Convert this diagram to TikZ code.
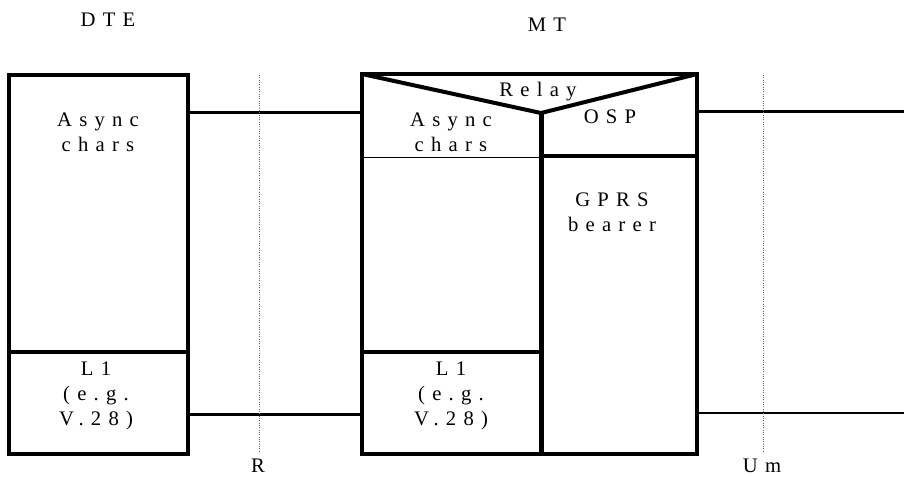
\documentclass[tikz,border=0pt]{standalone}
\usepackage{fontspec}
\setmainfont{Liberation Serif}
\newfontfamily\spaced[LetterSpace=35]{Liberation Serif}

\begin{document}
\begin{tikzpicture}[x=0.75pt,y=-0.75pt,
    box/.style={line width=3pt,line join=miter},
    midbar/.style={line width=3.75pt},
    wire/.style={line width=2.25pt},
    thinwire/.style={line width=1.5pt},
    hairline/.style={line width=0.75pt},
    refline/.style={draw=black!60,densely dotted,line width=0.75pt},
    lbl/.style={font=\spaced\fontsize{15.5}{18.5}\selectfont,align=center,inner sep=0pt}]
  \useasboundingbox (0,0) rectangle (904,476);

  % DTE stack
  \draw[box] (9,75) rectangle (188,454);
  \draw[box] (9,352) -- (188,352);
  \node[lbl] (dte) at (108,20) {DTE};
  \node[lbl] (dteasync) at (98,132) {Async\\chars};
  \node[lbl] (dtel1) at (96,396) {L1\\(e.g.\\V.28)};

  % MT stack
  \draw[box] (362,74) rectangle (697,454);
  \draw[box] (362,74) -- (541,113) -- (697,74);
  \draw[midbar] (541,113) -- (541,454);
  \draw[hairline] (362,157) -- (541,157);
  \draw[box] (541,156) -- (697,156);
  \draw[box] (362,352) -- (541,352);
  \node[lbl] (mt) at (547,25) {MT};
  \node[lbl] (relay) at (538,92) {Relay};
  \node[lbl] (mtasync) at (451,132) {Async\\chars};
  \node[lbl] (osp) at (610,117) {OSP};
  \node[lbl] (gprs) at (612,212) {GPRS\\bearer};
  \node[lbl] (mtl1) at (451,396) {L1\\(e.g.\\V.28)};

  % connection points
  \coordinate (dteup) at (188,112);
  \coordinate (mtup) at (362,112);
  \coordinate (dtelow) at (188,414);
  \coordinate (mtlow) at (362,414);
  \coordinate (ospout) at (697,111);
  \coordinate (airup) at (904,111);
  \coordinate (gprsout) at (697,413);
  \coordinate (airlow) at (904,413);

  \draw[wire] (dteup) -- (mtup);
  \draw[wire] (dtelow) -- (mtlow);
  \draw[wire] (ospout) -- (airup);
  \draw[thinwire] (gprsout) -- (airlow);

  % reference points
  \foreach \x/\name/\txt in {259/R/R,763/Um/U m}{
    \coordinate (\name top) at (\x,75);
    \coordinate (\name bot) at (\x,452);
    \draw[refline] (\name top) -- (\name bot);
  }
  \node[lbl] (Rlbl) at (258,466) {R};
  \node[lbl] (Umlbl) at (762,466) {Um};
\end{tikzpicture}
\end{document}
